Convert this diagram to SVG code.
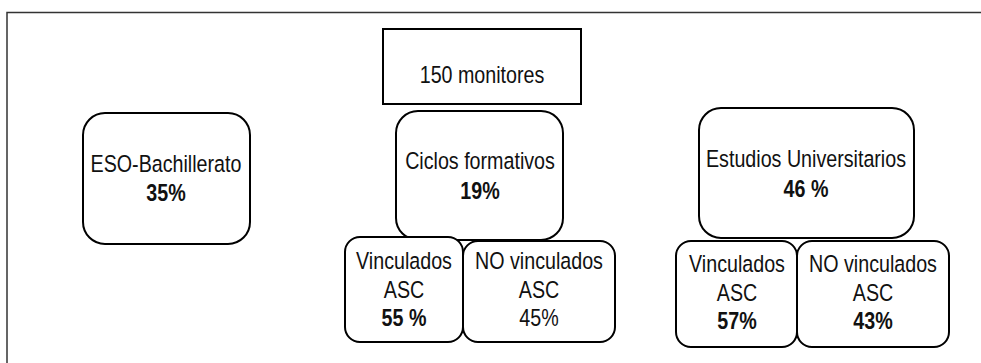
<svg xmlns="http://www.w3.org/2000/svg" width="981" height="363" viewBox="0 0 981 363">
<style>
.box{fill:#fff;stroke:#000;stroke-width:2}
.frame{fill:none;stroke:#333;stroke-width:1.5}
text{font-family:"Liberation Sans",Arial,sans-serif;font-size:23.3px;fill:#111;text-anchor:middle}
.b{font-weight:bold}
</style>
<rect width="981" height="363" fill="#fff"/>
<path class="frame" d="M7,363 V12.5 H981"/>
<g id="connectors"></g>
<g id="total">
<rect class="box" x="383" y="29" width="198" height="75"/>
<text transform="translate(482,83) scale(0.845,1)">150 monitores</text>
</g>
<g id="eso">
<rect class="box" x="83" y="113" width="167" height="131" rx="22"/>
<text transform="translate(166,172) scale(0.845,1)">ESO-Bachillerato</text>
<text class="b" transform="translate(166,201) scale(0.845,1)">35%</text>
</g>
<g id="ciclos">
<rect class="box" x="396" y="111" width="167" height="129" rx="22"/>
<text transform="translate(480,169) scale(0.845,1)">Ciclos formativos</text>
<text class="b" transform="translate(480,199) scale(0.845,1)">19%</text>
</g>
<g id="ciclos-vinc">
<rect class="box" x="345" y="237" width="118" height="105" rx="15"/>
<text transform="translate(404,269) scale(0.845,1)">Vinculados</text>
<text transform="translate(404,298) scale(0.845,1)">ASC</text>
<text class="b" transform="translate(404,326) scale(0.845,1)">55 %</text>
</g>
<g id="ciclos-novinc">
<rect class="box" x="463" y="241" width="152" height="101" rx="15"/>
<text transform="translate(539,269) scale(0.845,1)">NO vinculados</text>
<text transform="translate(539,298) scale(0.845,1)">ASC</text>
<text transform="translate(539,326) scale(0.845,1)">45%</text>
</g>
<g id="univ">
<rect class="box" x="699" y="108" width="215" height="130" rx="22"/>
<text transform="translate(806,167) scale(0.845,1)">Estudios Universitarios</text>
<text class="b" transform="translate(806,197) scale(0.845,1)">46 %</text>
</g>
<g id="univ-vinc">
<rect class="box" x="676" y="241" width="121" height="106" rx="15"/>
<text transform="translate(737,272) scale(0.845,1)">Vinculados</text>
<text transform="translate(737,301) scale(0.845,1)">ASC</text>
<text class="b" transform="translate(737,329) scale(0.845,1)">57%</text>
</g>
<g id="univ-novinc">
<rect class="box" x="797" y="241" width="152" height="106" rx="15"/>
<text transform="translate(873,272) scale(0.845,1)">NO vinculados</text>
<text transform="translate(873,301) scale(0.845,1)">ASC</text>
<text class="b" transform="translate(873,329) scale(0.845,1)">43%</text>
</g>
</svg>
